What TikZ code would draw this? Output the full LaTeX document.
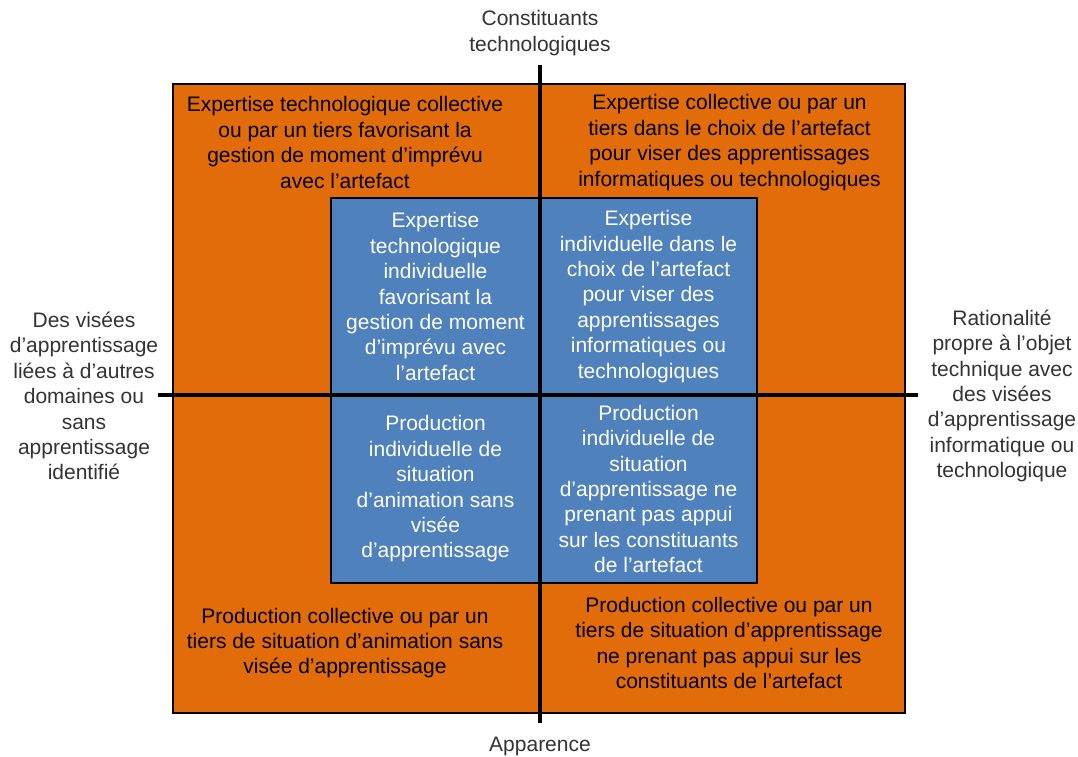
\documentclass[tikz,border=0pt]{standalone}
\usepackage{fontspec}
\setmainfont{Liberation Sans}
\usepackage{xcolor}
\usetikzlibrary{positioning}
\definecolor{quadorange}{HTML}{E36C0A}
\definecolor{cellblue}{HTML}{4F81BD}
\definecolor{labelgray}{HTML}{333333}

\begin{document}
\begin{tikzpicture}[x=1pt, y=-1pt,
        every node/.style={font=\fontsize{21}{25.4}\selectfont, align=center, inner sep=0pt},
        cell/.style={fill=cellblue, draw=black, line width=2.6pt, text=white},
        axislabel/.style={text=labelgray},
        axisline/.style={line width=3.4pt}]
    \useasboundingbox (0,0) rectangle (1078,756);
    % quadrant frame
    \node (frame) [fill=quadorange, draw=black, line width=2.6pt, minimum width=732pt, minimum height=629pt] at (539,398.5) {};
    \node (tlquad) at (345,142.5) {Expertise technologique collective\\ou par un tiers favorisant la\\gestion de moment  d’imprévu\\avec l’artefact};
    \node (trquad) at (729.5,142.5) {Expertise collective ou par un\\tiers dans le choix de l’artefact\\pour viser des apprentissages\\informatiques ou technologiques};
    \node (blquad) at (345,643) {Production collective ou par un\\tiers de situation d’animation sans\\visée d’apprentissage};
    \node (brquad) at (729,643) {Production collective ou par un\\tiers de situation d’apprentissage\\ne prenant pas appui sur les\\constituants de l’artefact};
    % individual cells
    \node (tlcell) [cell, minimum width=209pt, minimum height=197pt] at (435.5,296.5) {Expertise\\technologique\\individuelle\\favorisant la\\gestion de moment\\d’imprévu avec\\l’artefact};
    \node (trcell) [cell, minimum width=217pt, minimum height=197pt] at (648.5,296.5) {Expertise\\individuelle dans le\\choix de l’artefact\\pour viser des\\apprentissages\\informatiques ou\\technologiques};
    \node (blcell) [cell, minimum width=209pt, minimum height=188pt] at (435.5,489) {Production\\individuelle de\\situation\\d’animation sans\\visée\\d’apprentissage};
    \node (brcell) [cell, minimum width=217pt, minimum height=188pt] at (648.5,489) {Production\\individuelle de\\situation\\d’apprentissage ne\\prenant pas appui\\sur les constituants\\de l’artefact};
    % axes
    \coordinate (ntop) at (540,65);
    \coordinate (nbot) at (540,723);
    \coordinate (wend) at (158,395);
    \coordinate (eend) at (918,395);
    \draw[axisline] (ntop) -- (nbot);
    \draw[axisline] (wend) -- (eend);
    \node (toplabel) [axislabel] at (540,33) {Constituants\\technologiques};
    \node (botlabel) [axislabel] at (540,746) {Apparence};
    \node (leftlabel) [axislabel] at (84,396) {Des visées\\d’apprentissage\\liées à d’autres\\domaines ou\\sans\\apprentissage\\identifié};
    \node (rightlabel) [axislabel] at (1002,396) {Rationalité\\propre à l’objet\\technique avec\\des visées\\d’apprentissage\\informatique ou\\technologique};
\end{tikzpicture}
\end{document}
